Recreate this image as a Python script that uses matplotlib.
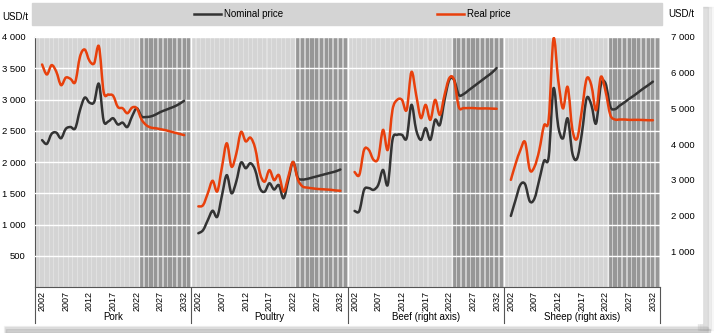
import numpy as np
import matplotlib
matplotlib.use('Agg')
import matplotlib.pyplot as plt
from matplotlib.path import Path
from matplotlib.patches import PathPatch, Rectangle
import matplotlib.transforms as mtransforms

plt.rcParams['font.family'] = ['Liberation Sans', 'DejaVu Sans']

years = list(range(2002, 2033))
tick_years = [2002, 2007, 2012, 2017, 2022, 2027, 2032]
panels = ['Pork', 'Poultry', 'Beef (right axis)', 'Sheep (right axis)']

pork_nominal = [2350, 2290, 2450, 2470, 2380, 2530, 2560, 2540, 2830, 3030, 2950, 2960, 3250,
                2660, 2650, 2700, 2600, 2630, 2560, 2730, 2860, 2730, 2720, 2730, 2760, 2800,
                2830, 2860, 2890, 2930, 2980]
pork_real = [3560, 3400, 3550, 3445, 3230, 3350, 3330, 3280, 3685, 3800, 3620, 3580, 3850,
             3120, 3080, 3060, 2880, 2860, 2780, 2870, 2860, 2680, 2590, 2550, 2540, 2525,
             2510, 2490, 2470, 2450, 2430]
poultry_nominal = [860, 910, 1070, 1220, 1125, 1470, 1790, 1500, 1685, 1990, 1900, 1980, 1870,
                   1580, 1525, 1660, 1560, 1630, 1420, 1710, 2000, 1750, 1720, 1730, 1750, 1770,
                   1790, 1810, 1830, 1850, 1880]
poultry_real = [1290, 1310, 1500, 1700, 1530, 1925, 2300, 1925, 2130, 2480, 2330, 2390, 2220,
                1820, 1685, 1870, 1710, 1790, 1525, 1765, 2000, 1720, 1610, 1590, 1580, 1570,
                1565, 1560, 1555, 1545, 1540]
beef_nominal = [2130, 2130, 2720, 2770, 2720, 2860, 3280, 2860, 4120, 4260, 4260, 4170, 5100,
                4400, 4120, 4450, 4120, 4680, 4540, 5240, 5800, 5800, 5380, 5400, 5500, 5600,
                5700, 5800, 5900, 6000, 6130]
beef_real = [3220, 3140, 3840, 3840, 3560, 3610, 4400, 3840, 4960, 5240, 5240, 4960, 6020,
             5380, 4730, 5100, 4680, 5240, 4820, 5380, 5850, 5800, 5040, 5010, 5010, 5010,
             5000, 5000, 5000, 4995, 4990]
sheep_nominal = [1990, 2440, 2860, 2880, 2400, 2480, 3000, 3530, 3650, 5560, 4500, 4160, 4720,
                 3740, 3600, 4300, 5280, 5100, 4580, 5650, 5700, 5050, 4980, 5080, 5170, 5270,
                 5360, 5460, 5560, 5650, 5750]
sheep_real = [3000, 3450, 3830, 4060, 3280, 3370, 3830, 4520, 4700, 6950, 5800, 5000, 5600,
              4400, 4160, 4950, 5830, 5650, 4950, 5880, 5480, 4820, 4690, 4690, 4690, 4680,
              4680, 4680, 4675, 4670, 4670]

NOMINAL_C = '#333333'
REAL_C = '#e8400c'
SLOTS = 33


def xpos(p, yrs):
    return [p * SLOTS + (y - 2000.5) for y in yrs]


def smooth_line(ax, xs, ys, color):
    pts = np.column_stack([xs, ys]).astype(float)
    n = len(pts)
    verts = [pts[0]]
    codes = [Path.MOVETO]
    for i in range(n - 1):
        p0 = pts[i - 1] if i > 0 else pts[i]
        p1 = pts[i]
        p2 = pts[i + 1]
        p3 = pts[i + 2] if i + 2 < n else pts[i + 1]
        c1 = p1 + (p2 - p0) / 6.0
        c2 = p2 - (p3 - p1) / 6.0
        verts += [c1, c2, p2]
        codes += [Path.CURVE4] * 3
    patch = PathPatch(Path(verts, codes), facecolor='none', edgecolor=color,
                      lw=1.8, capstyle='round', joinstyle='round', zorder=5)
    ax.add_patch(patch)


fig = plt.figure(figsize=(7.14, 3.33), dpi=100)
fig.patch.set_facecolor('white')

# soft shadow at the bottom and right edge
for k, a in enumerate([0.10, 0.18, 0.28]):
    fig.patches.append(Rectangle((0.005 + k * 0.002, 0.0), 0.985, 0.022 - k * 0.005,
                                 transform=fig.transFigure, color='#9a9a9a', alpha=a, zorder=-5))
    fig.patches.append(Rectangle((0.985 - k * 0.004, 0.01), 0.015 + k * 0.0, 0.97,
                                 transform=fig.transFigure, color='#9a9a9a', alpha=a * 0.6, zorder=-5))
fig.patches.append(Rectangle((0.0, 0.03), 0.983, 0.97, transform=fig.transFigure,
                             color='white', zorder=-4))

ax = fig.add_axes([35 / 714, 1 - 287 / 333, 625 / 714, 250 / 333])
ax2 = ax.twinx()

ax.set_xlim(0, SLOTS * 4)
ax.set_ylim(0, 4000)
ax2.set_ylim(0, 7000)

# background columns
for p in range(4):
    base = p * SLOTS
    ax.axvspan(base, base + 22, color='#e0e0e0', lw=0, zorder=0)
    ax.axvspan(base + 22, base + SLOTS, color='#cdcdcd', lw=0, zorder=0)
    light = [base + k + 0.5 for k in range(22)]
    dark = [base + k + 0.5 for k in range(22, SLOTS)]
    ax.bar(light, [4000] * len(light), width=0.78, color='#d4d4d4', lw=0, zorder=1)
    ax.bar(dark, [4000] * len(dark), width=0.66, color='#979797', lw=0, zorder=1)
    ax.axvline(base, color='white', lw=1.0, zorder=2)
    ax.axvline(base + 22, color='#eeeeee', lw=0.9, zorder=2)

for v in range(500, 4001, 500):
    ax.axhline(v, color='white', lw=1.0, zorder=3)

# lines
smooth_line(ax, xpos(0, years), pork_nominal, NOMINAL_C)
smooth_line(ax, xpos(0, years), pork_real, REAL_C)
smooth_line(ax, xpos(1, years), poultry_nominal, NOMINAL_C)
smooth_line(ax, xpos(1, years), poultry_real, REAL_C)
smooth_line(ax2, xpos(2, years), beef_nominal, NOMINAL_C)
smooth_line(ax2, xpos(2, years), beef_real, REAL_C)
smooth_line(ax2, xpos(3, years), sheep_nominal, NOMINAL_C)
smooth_line(ax2, xpos(3, years), sheep_real, REAL_C)

# y axes
ax.set_yticks(range(500, 4001, 500))
ax.set_yticklabels([f'{v:,}'.replace(',', ' ') for v in range(500, 4001, 500)])
ax2.set_yticks(range(1000, 7001, 1000))
ax2.set_yticklabels([f'{v:,}'.replace(',', ' ') for v in range(1000, 7001, 1000)])
ax.tick_params(axis='y', length=0, pad=7, labelsize=6.8)
ax2.tick_params(axis='y', length=0, pad=8, labelsize=6.8)

# x axis: years per panel
xt, xl = [], []
for p in range(4):
    xt += xpos(p, tick_years)
    xl += [str(y) for y in tick_years]
ax.set_xticks(xt)
ax.set_xticklabels(xl, rotation=90)
ax.tick_params(axis='x', length=0, pad=3, labelsize=6.5)

for a in (ax, ax2):
    for s in a.spines.values():
        s.set_visible(False)
ax.spines['bottom'].set_visible(True)
ax.spines['bottom'].set_color('#555555')
ax.spines['bottom'].set_linewidth(0.8)
ax.spines['left'].set_visible(True)
ax.spines['left'].set_color('#555555')
ax.spines['left'].set_linewidth(0.8)

trans = mtransforms.blended_transform_factory(ax.transData, ax.transAxes)
for p in range(5):
    ax.plot([p * SLOTS, p * SLOTS], [0, -0.145], transform=trans, color='#555555',
            lw=0.8, clip_on=False, zorder=6)
for p, name in enumerate(panels):
    ax.text(p * SLOTS + SLOTS / 2, -0.12, name, transform=trans, ha='center', va='center',
            fontsize=7)

# legend band
fig.patches.append(Rectangle((32 / 714, 1 - 25 / 333), 630 / 714, 22 / 333,
                             transform=fig.transFigure, color='#d4d4d4', zorder=0))
fig.add_artist(plt.Line2D([194 / 714, 221 / 714], [1 - 14 / 333] * 2, color=NOMINAL_C, lw=1.8))
fig.text(224 / 714, 1 - 14 / 333, 'Nominal price', fontsize=7, va='center', ha='left')
fig.add_artist(plt.Line2D([437 / 714, 464 / 714], [1 - 14 / 333] * 2, color=REAL_C, lw=1.8))
fig.text(467 / 714, 1 - 14 / 333, 'Real price', fontsize=7, va='center', ha='left')

fig.text(2 / 714, 1 - 17 / 333, 'USD/t', fontsize=7, va='center', ha='left')
fig.text(668 / 714, 1 - 14 / 333, 'USD/t', fontsize=7, va='center', ha='left')

plt.savefig('out.png', dpi=100)
